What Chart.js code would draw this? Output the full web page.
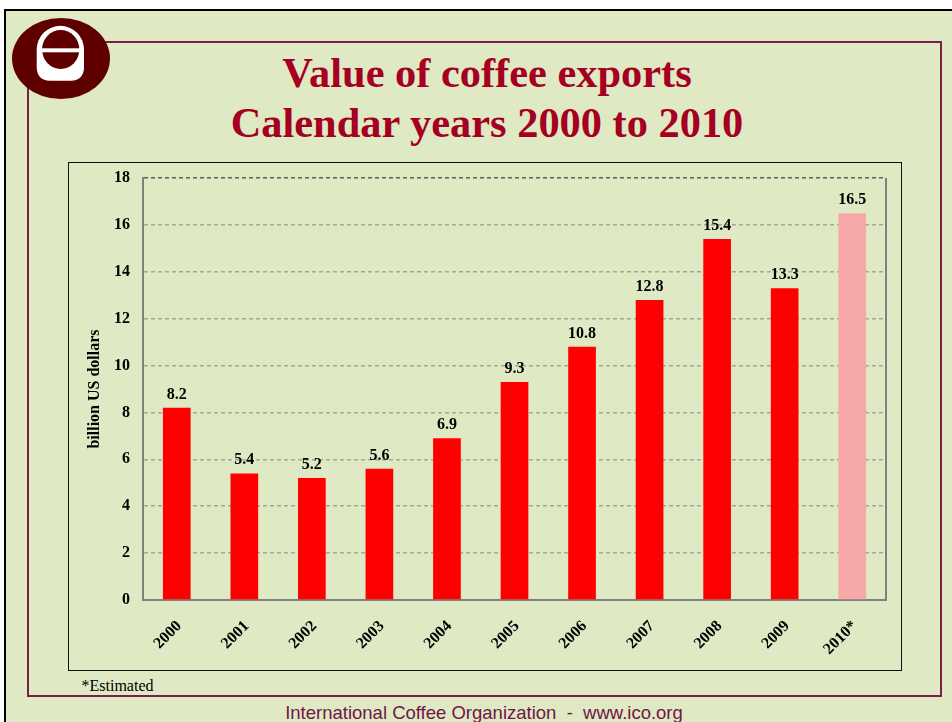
<!DOCTYPE html>
<html>
<head>
<meta charset="utf-8">
<script src="https://cdn.jsdelivr.net/npm/chart.js@4/dist/chart.umd.min.js"></script>
<style>
  html, body { margin:0; padding:0; background:#fff; width:952px; height:722px; overflow:hidden; }
  #slide { position:absolute; left:4px; top:9px; width:980px; height:740px; background:#dfe9c4; border-left:2px solid #000; border-top:2px solid #000; box-sizing:border-box; }
  #frame { position:absolute; left:27px; top:41px; width:915px; height:656px; border:2px solid #7b1e48; box-sizing:border-box; }
  #logo { position:absolute; left:0; top:0; }
  #title { position:absolute; left:0; top:47.5px; width:974px; text-align:center; font:bold 42.4px "Liberation Serif","Times New Roman",serif; line-height:50px; color:#a50021; white-space:nowrap; }
  #box { position:absolute; left:68px; top:162px; width:834px; height:509px; border:1px solid #111; box-sizing:border-box; }
  #chart { position:absolute; left:69px; top:163px; }
  #est { position:absolute; left:81.5px; top:677.3px; font:16px "Liberation Serif","Times New Roman",serif; line-height:18px; color:#000; }
  #footer { position:absolute; left:0; top:702.6px; width:968px; text-align:center; font:18.5px "Liberation Sans",Arial,sans-serif; line-height:20px; color:#701545; white-space:pre; }
</style>
</head>
<body>
<div id="slide"></div>
<div id="frame"></div>
<svg id="logo" width="120" height="110" viewBox="0 0 120 110">
  <ellipse cx="61" cy="58.5" rx="49" ry="40.5" fill="#5f0000"/>
  <path d="M36.7,49.5 A23.65,23.65 0 0 1 84,49.5 L84,67 C84,76 79,80.7 71,80.7 L49.7,80.7 C41.7,80.7 36.7,76 36.7,67 Z" fill="#ffffff"/>
  <ellipse cx="60.7" cy="49.5" rx="18.6" ry="19.5" fill="#5f0000"/>
  <rect x="38" y="48.3" width="45" height="4" fill="#ffffff"/>
</svg>
<div id="title">Value of coffee exports<br>Calendar years 2000 to 2010</div>
<div id="box"></div>
<canvas id="chart" width="832" height="507"></canvas>
<div id="est">*Estimated</div>
<div id="footer">International Coffee Organization  -  www.ico.org</div>
<script>
const categories = ["2000","2001","2002","2003","2004","2005","2006","2007","2008","2009","2010*"];
const exportValues = [8.2, 5.4, 5.2, 5.6, 6.9, 9.3, 10.8, 12.8, 15.4, 13.3, 16.5];
const estimatedFlags = [false,false,false,false,false,false,false,false,false,false,true];
const yTicks = [0, 2, 4, 6, 8, 10, 12, 14, 16, 18];
const yTitle = "billion US dollars";

const serif = '"Liberation Serif","Times New Roman",serif';
Chart.defaults.font.family = serif;

const valueLabels = {
  id: 'valueLabels',
  afterDatasetsDraw(chart) {
    const ctx = chart.ctx;
    const meta = chart.getDatasetMeta(0);
    ctx.save();
    ctx.font = 'bold 16px ' + serif;
    ctx.fillStyle = '#000';
    ctx.textAlign = 'center';
    ctx.textBaseline = 'alphabetic';
    meta.data.forEach((bar, i) => {
      ctx.fillText(exportValues[i].toFixed(1), bar.x, bar.y - 9);
    });
    ctx.restore();
  }
};
const rightBorder = {
  id: 'rightBorder',
  afterDraw(chart) {
    const a = chart.chartArea, ctx = chart.ctx;
    ctx.save();
    ctx.strokeStyle = '#808080';
    ctx.lineWidth = 2;
    ctx.beginPath();
    ctx.moveTo(a.right, a.top);
    ctx.lineTo(a.right, a.bottom + 1);
    ctx.stroke();
    ctx.restore();
  }
};

new Chart(document.getElementById('chart'), {
  type: 'bar',
  data: {
    labels: categories,
    datasets: [{
      data: exportValues,
      backgroundColor: estimatedFlags.map(e => e ? '#f7a8a8' : '#ff0000'),
      borderWidth: 0,
      barPercentage: 0.41,
      categoryPercentage: 1.0
    }]
  },
  options: {
    responsive: false,
    animation: false,
    devicePixelRatio: 1,
    layout: { padding: { left: 0, top: 15, right: 15, bottom: 0 } },
    plugins: { legend: { display: false }, tooltip: { enabled: false } },
    scales: {
      x: {
        afterFit(s) { s.height = 70; s.paddingLeft = 0; s.paddingRight = 0; },
        grid: { display: false },
        border: { display: true, color: '#808080', width: 2 },
        ticks: {
          maxRotation: 45, minRotation: 45, padding: 9, labelOffset: 2.5,
          color: '#000', font: { family: serif, size: 16, weight: 'bold' }
        }
      },
      y: {
        min: 0, max: 18,
        afterFit(s) { s.width = 74; s.paddingTop = 0; s.paddingBottom = 0; },
        afterBuildTicks(s) { s.ticks = yTicks.map(v => ({ value: v })); },
        grid: {
          drawTicks: false,
          lineWidth: 1.5,
          color: (c) => (c.tick && c.tick.value === 18) ? '#606060' : '#a4a89a'
        },
        border: { display: true, color: '#808080', width: 2, dash: [4, 3] },
        ticks: {
          padding: 13, color: '#000',
          font: { family: serif, size: 16, weight: 'bold' }
        },
        title: {
          display: true, text: yTitle, color: '#000',
          font: { family: serif, size: 16, weight: 'bold' },
          padding: { top: 16.4, bottom: 0 }
        }
      }
    }
  },
  plugins: [valueLabels, rightBorder]
});
</script>
</body>
</html>
